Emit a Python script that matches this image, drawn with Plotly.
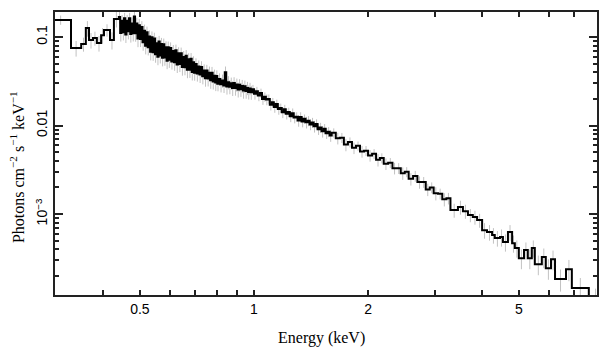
import numpy as np
import plotly.graph_objects as go

# ---- data (keV left bin edges, unfolded flux in photons cm^-2 s^-1 keV^-1, relative errors) ----
e_soft = [0.290, 0.329, 0.350, 0.360, 0.367, 0.376, 0.385, 0.395, 0.402, 0.417, 0.427]
f_soft = [0.156, 0.0751, 0.0833, 0.126, 0.0925, 0.0974, 0.0855, 0.105, 0.120, 0.0925, 0.160]
r_soft = [0.12, 0.2, 0.18, 0.2, 0.2, 0.18, 0.2, 0.2, 0.16, 0.22, 0.2]

e_low = [0.4400, 0.4435, 0.4470, 0.4505, 0.4540, 0.4575, 0.4610, 0.4645, 0.4680, 0.4715,
         0.4750, 0.4785, 0.4820, 0.4855, 0.4890, 0.4925, 0.4960,
         0.500, 0.504, 0.508, 0.512, 0.516, 0.520, 0.524, 0.528, 0.532, 0.536,
         0.540, 0.544, 0.548, 0.552, 0.556, 0.560, 0.564, 0.568, 0.572, 0.576,
         0.580, 0.584, 0.588, 0.592, 0.596,
         0.600, 0.605, 0.610, 0.615, 0.620, 0.625, 0.630, 0.635, 0.640, 0.645,
         0.650, 0.655, 0.660, 0.665, 0.670, 0.675, 0.680, 0.685, 0.690, 0.695,
         0.700, 0.706, 0.712, 0.718, 0.724, 0.730, 0.736, 0.742, 0.748, 0.754,
         0.760, 0.766, 0.772, 0.778, 0.784, 0.790, 0.796,
         0.800, 0.8075, 0.815, 0.8225, 0.830, 0.8375, 0.845, 0.8525, 0.860, 0.8675,
         0.875, 0.8825, 0.890, 0.8975, 0.905, 0.9125, 0.920, 0.9275, 0.935, 0.9425,
         0.950, 0.9575, 0.965, 0.9725, 0.980]
f_low = [0.168, 0.111, 0.153, 0.113, 0.163, 0.107, 0.153, 0.116, 0.163, 0.108,
         0.142, 0.110, 0.170, 0.1105, 0.142, 0.096, 0.136,
         0.095, 0.130, 0.0874, 0.118, 0.0795, 0.113, 0.0765, 0.101, 0.068, 0.0996,
         0.0672, 0.0964, 0.064, 0.0851, 0.060, 0.0888, 0.062, 0.0835, 0.0582, 0.0828,
         0.0585, 0.0764, 0.0541, 0.0766, 0.0553,
         0.0749, 0.0529, 0.0694, 0.0519, 0.0708, 0.0490, 0.0655, 0.0496, 0.0655, 0.0457,
         0.0594, 0.0456, 0.0614, 0.0428, 0.0560, 0.0426, 0.0568, 0.0403, 0.0517, 0.0396,
         0.0495, 0.0387, 0.0464, 0.0378, 0.0459, 0.0360, 0.0419, 0.0343, 0.0418, 0.0341,
         0.0396, 0.0325, 0.0396, 0.0315, 0.0366, 0.0306, 0.0362,
         0.0297, 0.0335, 0.0292, 0.0322, 0.0284, 0.0400, 0.0276, 0.0309, 0.0275, 0.0300,
         0.0266, 0.0303, 0.0265, 0.0290, 0.0256, 0.0288, 0.0257, 0.0280, 0.0248, 0.0278,
         0.0245, 0.0266, 0.0240, 0.0262, 0.0238]
r_low = [0.16, 0.2, 0.16, 0.19, 0.15, 0.2, 0.16, 0.19, 0.15, 0.2,
         0.17, 0.19, 0.15, 0.2, 0.16, 0.2, 0.17,
         0.19, 0.16, 0.2, 0.17, 0.2, 0.16, 0.19, 0.17, 0.2, 0.16,
         0.2, 0.16, 0.2, 0.17, 0.2, 0.16, 0.19, 0.17, 0.2, 0.16,
         0.19, 0.17, 0.2, 0.16, 0.19,
         0.16, 0.19, 0.17, 0.2, 0.16, 0.2, 0.17, 0.19, 0.16, 0.2,
         0.17, 0.19, 0.16, 0.2, 0.17, 0.19, 0.16, 0.2, 0.17, 0.19,
         0.16, 0.19, 0.17, 0.2, 0.16, 0.19, 0.17, 0.2, 0.16, 0.19,
         0.17, 0.2, 0.16, 0.19, 0.17, 0.2, 0.16,
         0.18, 0.16, 0.19, 0.17, 0.18, 0.16, 0.19, 0.17, 0.18, 0.16,
         0.19, 0.16, 0.18, 0.17, 0.19, 0.16, 0.18, 0.17, 0.19, 0.16,
         0.18, 0.17, 0.18, 0.16, 0.18]

e_mid = [0.988, 1.000, 1.012, 1.024, 1.037, 1.050, 1.062, 1.075, 1.088, 1.101,
         1.115, 1.128, 1.142, 1.156, 1.170, 1.184, 1.199, 1.213, 1.228, 1.243,
         1.258, 1.273, 1.289, 1.304, 1.320, 1.336, 1.352, 1.368, 1.385, 1.402,
         1.419, 1.436, 1.454, 1.472, 1.490, 1.508, 1.527, 1.546, 1.565, 1.584,
         1.604, 1.644, 1.685, 1.727, 1.770, 1.814, 1.859, 1.905, 1.952, 2.000,
         2.05, 2.10, 2.15, 2.20, 2.26, 2.32, 2.38, 2.44, 2.50, 2.56,
         2.63, 2.70, 2.77, 2.84, 2.91, 2.98, 3.06, 3.14, 3.22, 3.30]
f_mid = [0.0257, 0.0228, 0.0244, 0.0219, 0.0233, 0.0199, 0.0211, 0.0197, 0.0200, 0.0172,
         0.0183, 0.0162, 0.0175, 0.0154, 0.0158, 0.0141, 0.0153, 0.0136, 0.0142, 0.0127,
         0.0138, 0.0123, 0.0126, 0.0114, 0.0125, 0.0111, 0.0119, 0.0109, 0.0113, 0.0103,
         0.0108, 0.0098, 0.0104, 0.0091, 0.0095, 0.0086, 0.0092, 0.0082, 0.0085, 0.0077,
         0.0083, 0.0072, 0.0073, 0.0061, 0.0065, 0.0056, 0.0059, 0.0051, 0.0052, 0.0046,
         0.0048, 0.0041, 0.0043, 0.0037, 0.0038, 0.0033, 0.0033, 0.0029, 0.0030, 0.0025,
         0.0027, 0.0023, 0.0023, 0.0019, 0.0020, 0.00172, 0.00170, 0.00147, 0.00151, 0.00111]
r_mid = [0.12, 0.14, 0.12, 0.14, 0.12, 0.14, 0.12, 0.14, 0.12, 0.14,
         0.12, 0.14, 0.12, 0.14, 0.12, 0.14, 0.12, 0.14, 0.12, 0.14,
         0.13, 0.14, 0.12, 0.15, 0.13, 0.14, 0.12, 0.15, 0.13, 0.14,
         0.13, 0.15, 0.13, 0.14, 0.13, 0.15, 0.13, 0.14, 0.13, 0.15,
         0.12, 0.15, 0.13, 0.16, 0.13, 0.15, 0.12, 0.15, 0.13, 0.15,
         0.13, 0.16, 0.13, 0.15, 0.13, 0.15, 0.14, 0.16, 0.13, 0.16,
         0.14, 0.16, 0.14, 0.16, 0.14, 0.17, 0.14, 0.17, 0.15, 0.18]

e_high = [3.454, 3.56, 3.67, 3.78, 3.88, 4.00, 4.12, 4.25, 4.32, 4.46,
          4.54, 4.68, 4.80, 4.88, 5.00, 5.16, 5.28, 5.41, 5.51, 5.75,
          5.89, 6.08, 6.23, 6.66, 6.90, 7.65]
f_high = [0.00120, 0.00108, 0.000975, 0.000925, 0.000855, 0.000659, 0.000626, 0.000579, 0.000536, 0.000550,
          0.000483, 0.000626, 0.000470, 0.000413, 0.000318, 0.000392, 0.000318, 0.000413, 0.000272, 0.000327,
          0.000245, 0.000310, 0.000185, 0.000239, 0.000146, 0.00009]
r_high = [0.18, 0.18, 0.17, 0.18, 0.18, 0.2, 0.2, 0.2, 0.2, 0.22,
          0.22, 0.2, 0.22, 0.22, 0.25, 0.22, 0.25, 0.22, 0.25, 0.25,
          0.26, 0.25, 0.28, 0.27, 0.3, 0.6]
e_last = 8.3

x_tickvals = [0.5, 1, 2, 5]
x_ticktext = ["0.5", "1", "2", "5"]
x_minor = [0.4, 0.6, 0.7, 0.8, 0.9, 3, 4, 6, 7]
y_tickvals = [1e-3, 1e-2, 1e-1]
y_ticktext = ["10<sup>\u22123</sup>", "0.01", "0.1"]
y_minor = [m * d for d in (1e-4, 1e-3, 1e-2, 1e-1) for m in range(2, 10)]

# ---- build ----
lo = np.array(e_soft + e_low + e_mid + e_high)
flux = np.array(f_soft + f_low + f_mid + f_high)
rel = np.array(r_soft + r_low + r_mid + r_high)
edges = np.append(lo, e_last)
centers = np.sqrt(edges[:-1] * edges[1:])
err = flux * rel

x_step = list(lo) + [e_last]
y_step = list(flux) + [flux[-1]]

fig = go.Figure()
fig.add_trace(go.Scatter(
    x=centers, y=flux, mode="markers",
    marker=dict(size=1, color="rgba(0,0,0,0)"),
    error_y=dict(type="data", array=err, arrayminus=err, color="#c2c2c2",
                 thickness=1, width=0),
    showlegend=False, hoverinfo="skip"))
fig.add_trace(go.Scatter(
    x=x_step, y=y_step, mode="lines", line=dict(shape="hv", color="black", width=2),
    showlegend=False))

axis_common = dict(showline=True, linewidth=2, linecolor="#222", mirror="allticks",
                   ticks="inside", tickwidth=1.5, tickcolor="#222", showgrid=False,
                   zeroline=False, automargin=False,
                   tickfont=dict(family="Liberation Sans, Arial, sans-serif", size=14, color="black"))

# the page body adds an 8px offset, so the figure is 8px smaller on each side
fig.update_layout(
    template="none",
    width=600, height=349,
    margin=dict(l=47, r=11, t=4, b=62, autoexpand=False),
    paper_bgcolor="white", plot_bgcolor="white",
    xaxis=dict(type="log", range=[np.log10(0.2985), np.log10(8.04)],
               tickmode="array", tickvals=x_tickvals, ticktext=x_ticktext,
               ticklen=5,
               minor=dict(tickmode="array", tickvals=x_minor, ticks="inside",
                          ticklen=5, tickwidth=1.5, tickcolor="#222"),
               **axis_common),
    yaxis=dict(type="log", range=[np.log10(1.22e-4), np.log10(0.1916)],
               tickmode="array", tickvals=y_tickvals, ticktext=y_ticktext,
               tickangle=-90, ticklen=8,
               minor=dict(tickmode="array", tickvals=y_minor, ticks="inside",
                          ticklen=4, tickwidth=1.5, tickcolor="#222"),
               **axis_common),
    annotations=[
        dict(text="Energy (keV)", xref="paper", yref="paper", x=0.4926, y=-0.152,
             xanchor="center", yanchor="middle", showarrow=False,
             font=dict(family="Liberation Serif, Times New Roman, serif", size=16, color="black")),
        dict(text="Photons cm<sup>\u22122</sup> s<sup>\u22121</sup> keV<sup>\u22121</sup>",
             xref="paper", yref="paper", x=-0.0701, y=0.452, textangle=-90,
             xanchor="center", yanchor="middle", showarrow=False,
             font=dict(family="Liberation Serif, Times New Roman, serif", size=16, color="black")),
    ],
)

fig.write_html("out.html")
